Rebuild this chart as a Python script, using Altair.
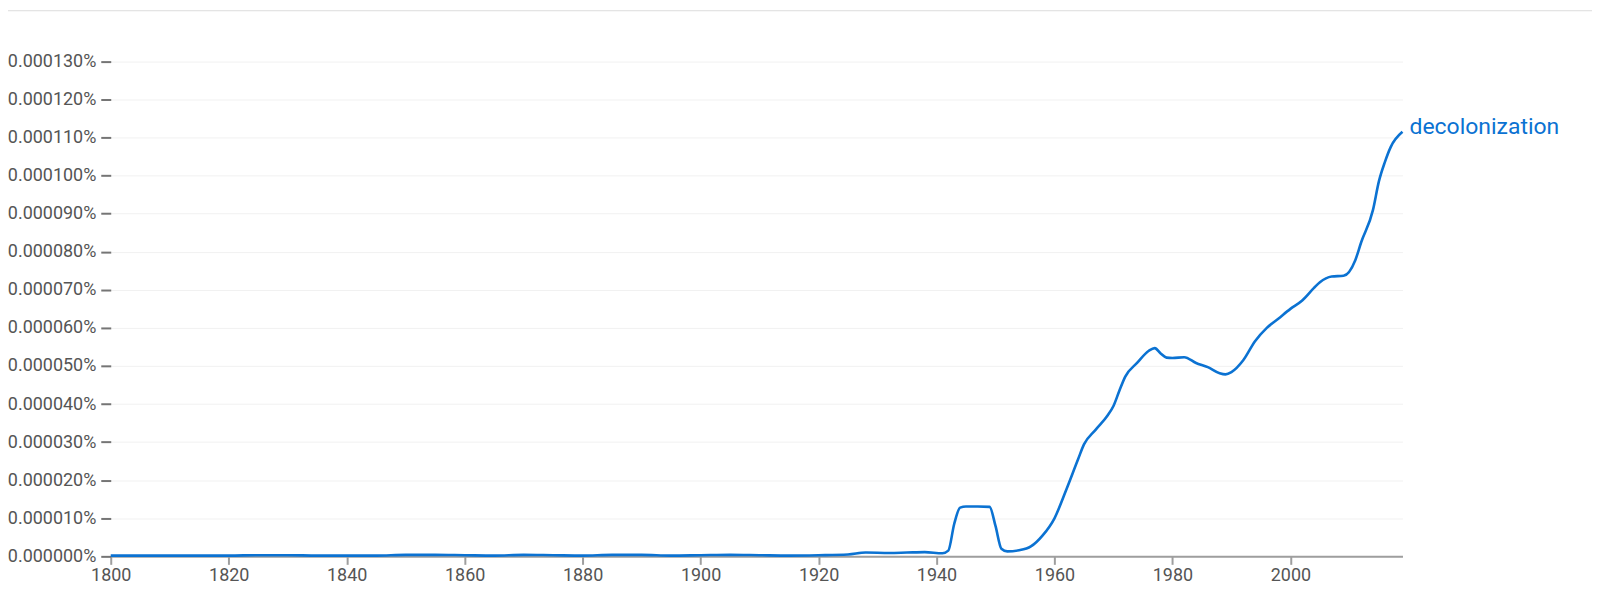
import altair as alt
import pandas as pd

years = [1800, 1810, 1820, 1825, 1830, 1835, 1840, 1845, 1850, 1855, 1860, 1865,
         1870, 1875, 1880, 1885, 1890, 1895, 1900, 1905, 1910, 1915, 1920, 1925,
         1928, 1932, 1935, 1938, 1941, 1942, 1943, 1944, 1945, 1947, 1949, 1950,
         1951, 1952, 1954, 1956, 1958, 1960, 1962, 1964, 1965, 1967, 1969, 1970,
         1971, 1972, 1974, 1976, 1977, 1978, 1979, 1980, 1982, 1984, 1986, 1988,
         1989, 1990, 1992, 1994, 1996, 1998, 2000, 2002, 2004, 2005, 2007, 2009,
         2011, 2012, 2014, 2015, 2016, 2017, 2019]
# values in percent
values = [0.02e-5, 0.02e-5, 0.02e-5, 0.03e-5, 0.03e-5, 0.02e-5, 0.02e-5, 0.02e-5,
          0.04e-5, 0.04e-5, 0.03e-5, 0.02e-5, 0.04e-5, 0.03e-5, 0.02e-5, 0.04e-5,
          0.04e-5, 0.02e-5, 0.03e-5, 0.04e-5, 0.03e-5, 0.02e-5, 0.03e-5, 0.05e-5,
          0.10e-5, 0.09e-5, 0.10e-5, 0.11e-5, 0.08e-5, 0.15e-5, 0.85e-5, 1.28e-5,
          1.31e-5, 1.31e-5, 1.30e-5, 0.80e-5, 0.20e-5, 0.13e-5, 0.16e-5, 0.26e-5,
          0.55e-5, 1.00e-5, 1.75e-5, 2.55e-5, 2.94e-5, 3.33e-5, 3.70e-5, 3.95e-5,
          4.35e-5, 4.72e-5, 5.08e-5, 5.40e-5, 5.47e-5, 5.33e-5, 5.22e-5, 5.21e-5,
          5.23e-5, 5.08e-5, 4.97e-5, 4.81e-5, 4.78e-5, 4.84e-5, 5.15e-5, 5.65e-5,
          6.00e-5, 6.25e-5, 6.50e-5, 6.72e-5, 7.05e-5, 7.20e-5, 7.35e-5, 7.37e-5,
          7.78e-5, 8.25e-5, 9.10e-5, 9.85e-5, 10.35e-5, 10.75e-5, 11.15e-5]
series_name = "decolonization"
x_ticks = [1800, 1820, 1840, 1860, 1880, 1900, 1920, 1940, 1960, 1980, 2000]
y_ticks = [0.0, 0.00001, 0.00002, 0.00003, 0.00004, 0.00005, 0.00006, 0.00007,
           0.00008, 0.00009, 0.00010, 0.00011, 0.00012, 0.00013]

df = pd.DataFrame({"year": years, "value": values, "term": series_name})
last = df.tail(1)

BLUE = "#0b72d2"
FONT = "Roboto"

x = alt.X("year:Q",
          scale=alt.Scale(domain=[1800, 2019], nice=False, zero=False),
          axis=alt.Axis(values=x_ticks, format="d", title=None, grid=False,
                        tickCount=30,
                        domainColor="#9e9e9e", domainWidth=2,
                        tickColor="#9e9e9e", tickWidth=2, tickSize=8,
                        labelFontSize=18, labelColor="#555555", labelFont=FONT,
                        labelPadding=2, labelFlush=False, labelOverlap=False))
y = alt.Y("value:Q",
          scale=alt.Scale(domain=[0, 0.000131], nice=False),
          axis=alt.Axis(values=y_ticks, title=None, domain=False, tickCount=30,
                        labelExpr="format(datum.value, '.6f') + '%'",
                        grid=True, gridColor="#f1f1f1", gridWidth=1,
                        tickColor="#757575", tickWidth=2, tickSize=10,
                        labelFontSize=18, labelColor="#555555", labelFont=FONT,
                        labelPadding=5, labelOverlap=False))

line = alt.Chart(df).mark_line(color=BLUE, strokeWidth=2.6, interpolate="monotone").encode(x=x, y=y)

label = alt.Chart(last).mark_text(align="left", baseline="middle", dx=7, dy=-5,
                                  fontSize=23, font=FONT, color=BLUE).encode(
    x="year:Q", y="value:Q", text="term:N")

top_rule = alt.Chart(last).mark_rule(color="#dddddd", strokeWidth=1).encode(
    x=alt.value(-103), x2=alt.value(1600), y=alt.value(-47))

chart = alt.layer(top_rule, line, label).properties(
    width=1295, height=500,
    autosize=alt.AutoSizeParams(type="none"),
    padding={"left": 103, "top": 49, "right": 190, "bottom": 36},
).configure_view(stroke=None)

chart.save("out.html", embed_options={"renderer": "svg", "actions": False})
